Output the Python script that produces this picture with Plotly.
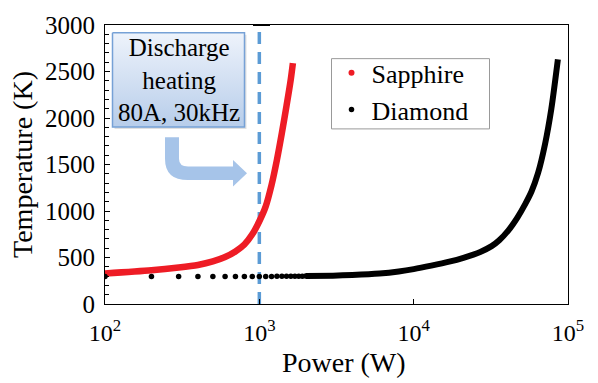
import plotly.graph_objects as go

# ---------------- data ----------------
sapphire_power = [100, 200, 300, 400, 500, 600, 700, 800, 900, 1000,
                  1100, 1200, 1300, 1400, 1500, 1600, 1650]
sapphire_temp = [328, 362, 392, 420, 458, 505, 565, 640, 750, 890,
                 1050, 1280, 1550, 1840, 2130, 2420, 2590]

diamond_dot_power = [100, 200, 300, 400, 500, 600, 700, 800, 900, 1000,
                     1100, 1200, 1300, 1400, 1500, 1600, 1700, 1800, 1900, 2000]
diamond_dot_temp = [296, 296, 296, 296, 296, 296, 296, 297, 297, 297,
                    297, 297, 298, 298, 298, 298, 299, 299, 299, 300]

diamond_power = [2000, 3000, 4000, 6000, 8000, 10000, 13000, 17000, 21000, 27000,
                 32000, 36000, 41000, 47000, 53000, 58000, 64000, 71000, 78000, 86000]
diamond_temp = [300, 305, 312, 328, 350, 375, 412, 455, 497, 560,
                622, 688, 790, 930, 1080, 1210, 1410, 1720, 2100, 2630]

discharge_power = 1000
x_tick_vals = [100, 1000, 10000, 100000]
x_tick_text = ["10<sup>2</sup>", "10<sup>3</sup>", "10<sup>4</sup>", "10<sup>5</sup>"]
y_tick_vals = [0, 500, 1000, 1500, 2000, 2500, 3000]

FONT = "Liberation Serif"

# ---------------- layout helpers (pixel -> paper) ----------------
W, H = 598, 383
L, R, T, B = 105, 30, 18, 79
PW, PH = W - L - R, H - T - B


def fx(px):
    return (px - L) / PW


def fy(py):
    return (H - B - py) / PH


fig = go.Figure()

# annotation box shadow + gradient box (overlay axes in paper units)
bx0, bx1, by0, by1 = 112.5, 244.5, 26, 122.5
fig.add_trace(go.Scatter(
    x=[fx(bx0 + 2), fx(bx1 + 2), fx(bx1 + 2), fx(bx0 + 2), fx(bx0 + 2)],
    y=[fy(by0 + 2), fy(by0 + 2), fy(by1 + 2), fy(by1 + 2), fy(by0 + 2)],
    xaxis="x2", yaxis="y2", mode="lines", fill="toself",
    fillcolor="rgba(0,0,0,0.12)", line=dict(width=0), showlegend=False,
    hoverinfo="skip"))
fig.add_trace(go.Scatter(
    x=[fx(bx0), fx(bx1), fx(bx1), fx(bx0), fx(bx0)],
    y=[fy(by0), fy(by0), fy(by1), fy(by1), fy(by0)],
    xaxis="x2", yaxis="y2", mode="lines", fill="toself",
    fillgradient=dict(type="vertical",
                      colorscale=[[0, "#b7cdea"], [1, "#eef3fb"]]),
    line=dict(color="#76a1d6", width=1.5), showlegend=False,
    hoverinfo="skip"))

# legend entry for Sapphire (dot)
fig.add_trace(go.Scatter(x=[None], y=[None], mode="markers", name="Sapphire",
                         marker=dict(color="#ee1c25", size=6)))
# Sapphire curve
fig.add_trace(go.Scatter(x=sapphire_power, y=sapphire_temp, mode="lines",
                         line=dict(color="#ee1c25", width=6.5, shape="spline", smoothing=0.8),
                         showlegend=False))
# Diamond dots
fig.add_trace(go.Scatter(x=diamond_dot_power, y=diamond_dot_temp, mode="markers",
                         name="Diamond", marker=dict(color="black", size=5.5)))
# Diamond dense part
fig.add_trace(go.Scatter(x=diamond_power, y=diamond_temp, mode="lines",
                         line=dict(color="black", width=6, shape="spline", smoothing=0.8),
                         showlegend=False))

# vertical dashed line at discharge power
fig.add_shape(type="line", xref="x", yref="paper", x0=discharge_power, x1=discharge_power,
              y0=0, y1=0.99, line=dict(color="#5b9bd5", width=3.5, dash="12px,8px"),
              layer="below")

# short thick segment on the top frame (as in the reference)
fig.add_shape(type="line", xref="paper", yref="paper", x0=fx(253), x1=fx(270),
              y0=1, y1=1, line=dict(color="black", width=2))

# legend frame
fig.add_shape(type="rect", xref="paper", yref="paper",
              x0=fx(331.5), x1=fx(489.5), y0=fy(124.5), y1=fy(52.5),
              line=dict(color="#999999", width=1), fillcolor="white", layer="below")

# bent arrow
pts = {
    "a": (165, 133), "b": (179, 133), "c": (179, 155), "cq": (179, 163), "d": (188, 163),
    "e": (233, 163), "f": (233, 156.5), "g": (247, 170), "h": (233, 183.5), "i": (233, 177),
    "j": (188, 177), "jq": (165, 177), "k": (165, 155),
}


def P(k):
    x, y = pts[k]
    return f"{fx(x):.4f},{fy(y):.4f}"


path = (f"M {P('a')} L {P('b')} L {P('c')} Q {P('cq')} {P('d')} L {P('e')} L {P('f')} "
        f"L {P('g')} L {P('h')} L {P('i')} L {P('j')} Q {P('jq')} {P('k')} Z")
fig.add_shape(type="path", xref="paper", yref="paper", path=path,
              fillcolor="#a6c4e9", line=dict(width=0))

fig.add_annotation(xref="paper", yref="paper", x=fx((bx0 + bx1) / 2), y=fy((by0 + by1) / 2),
                   xanchor="center", yanchor="middle",
                   text="Discharge<br>heating<br>80A, 30kHz", showarrow=False,
                   font=dict(family=FONT, size=25, color="black"), align="center")

# x-axis title
fig.add_annotation(xref="paper", yref="paper", x=fx(344), y=fy(364),
                   xanchor="center", yanchor="middle", showarrow=False,
                   text="Power (W)", font=dict(family=FONT, size=28, color="black"))

fig.update_layout(
    width=W, height=H,
    margin=dict(l=L, r=R, t=T, b=B),
    paper_bgcolor="white", plot_bgcolor="white",
    font=dict(family=FONT, color="black"),
    xaxis=dict(type="log", range=[2, 5], tickvals=x_tick_vals, ticktext=x_tick_text,
               ticks="inside", ticklen=5, tickcolor="black", showgrid=False,
               showline=True, mirror=True, linecolor="black", linewidth=1,
               tickfont=dict(family=FONT, size=24), ticklabelstandoff=7,
               zeroline=False),
    yaxis=dict(range=[0, 3000], tickvals=y_tick_vals,
               ticks="inside", ticklen=5, tickcolor="black", showgrid=False,
               minor=dict(dtick=100, ticks="inside", ticklen=4, tickcolor="black", showgrid=False),
               showline=True, mirror=True, linecolor="black", linewidth=1,
               tickfont=dict(family=FONT, size=25), ticklabelstandoff=4,
               title=dict(text="Temperature (K)", font=dict(family=FONT, size=28), standoff=4),
               zeroline=False),
    xaxis2=dict(overlaying="x", range=[0, 1], visible=False, fixedrange=True),
    yaxis2=dict(overlaying="y", range=[0, 1], visible=False, fixedrange=True),
    legend=dict(x=fx(331.5), y=fy(43), xanchor="left", yanchor="top",
                borderwidth=0, bgcolor="rgba(0,0,0,0)",
                font=dict(family=FONT, size=26)),
    showlegend=True,
)

fig.write_html("out.html")
